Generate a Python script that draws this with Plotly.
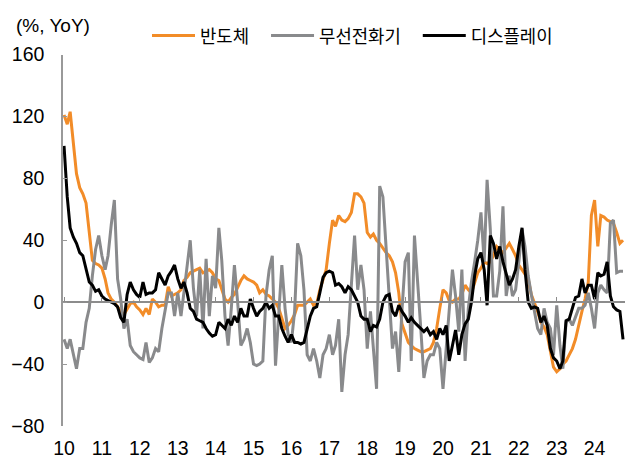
import pandas as pd
import plotly.graph_objects as go

# Monthly YoY (%) Jan 2010 - Oct 2024
semis = [
    121, 115, 123, 100, 83, 74, 70, 64, 47, 27, 25, 24,      # 2010
    22, 15, 6, 2, 0, -3, -6, -8, -4, -1, 0, -3,              # 2011
    -5, -8, -4, -8, 2, 0, -3, -2, -2, 10, 4, 5,              # 2012
    6, 8, 14, 16, 19, 20, 21, 22, 19, 20, 21, 19,            # 2013
    15, 14, 8, 2, 0, 3, 5, 10, 14, 17, 15, 14,               # 2014
    13, 11, 6, 8, 5, 4, 2, 0, -4, -10, -17, -15,             # 2015
    -12, -8, -2, -2, -2, 0, 2, -2, -1, 8, 14, 21,            # 2016
    38, 53, 49, 56, 53, 52, 54, 58, 70, 70, 68, 64,          # 2017
    45, 42, 44, 40, 38, 35, 32, 30, 26, 19, 6, -14,          # 2018
    -20, -26, -28, -30, -31, -32, -32, -31, -30, -26, -17, -4,  # 2019
    8, 6, 1, 0, 2, 2, 5, 11, 8, 6, 12, 19,                   # 2020
    22, 26, 25, 26, 30, 36, 34, 32, 35, 38, 34, 30,          # 2021
    24, 21, 18, 15, 5, 0, -6, -13, -16, -21, -33, -42,       # 2022
    -45, -43, -40, -38, -34, -30, -24, -14, -6, 2, 13, 56,   # 2023
    66, 36, 56, 55, 53, 52, 51, 45, 38, 40,                  # 2024
]
phones = [
    -24, -30, -24, -34, -43, -30, -30, -13, -4, 17, 34, 43,  # 2010
    30, 21, 30, 50, 66, 15, 2, -17, -11, -28, -32, -34,      # 2011
    -36, -37, -26, -39, -36, -30, -32, -17, -4, 6, 6, -9,    # 2012
    6, -9, 6, 24, 40, 9, -9, 21, -17, 28, -9, 17,            # 2013
    9, 48, 27, -9, -28, -4, 24, 0, -28, -24, -17, -26,       # 2014
    -40, -41, -40, -38, 4, 21, 30, -41, -4, 24, -4, -21,     # 2015
    -26, -6, 38, 30, 8, -34, -38, -30, -38, -49, -34, -30,   # 2016
    -21, -34, -28, -11, -58, -34, -21, 8, 43, 8, 24, 8,      # 2017
    -30, -6, -30, -56, 75, 68, 36, 4, -30, -19, -45, -6,     # 2018
    26, 32, -38, 43, 10, -17, -49, -38, -34, -34, -26, -30,  # 2019
    -56, -30, 0, 21, 4, -19, 21, -38, -4, 13, 26, 40,        # 2020
    58, 26, 79, 47, 4, 4, 20, 62, 4, 17, 4, 8,               # 2021
    26, 47, 36, 17, 5, -6, -17, -21, -4, -13, -17, -34,      # 2022
    -2, -28, -43, -13, -11, -15, -9, -4, -4, -2, 6, -4,      # 2023
    -17, 6, 11, 8, 6, 51, 53, 19, 20, 20,                    # 2024
]
display = [
    101, 68, 48, 42, 38, 32, 30, 22, 13, 11, 7, 8,           # 2010
    4, 2, 1, 0, -1, -3, -10, -13, 5, 13, 8, 5,               # 2011
    3, 13, 5, 6, 6, 8, 19, 15, 11, 17, 20, 24,               # 2012
    15, 9, 13, 6, -4, -6, -11, -12, -13, -17, -20, -22,      # 2013
    -21, -13, -15, -17, -11, -15, -9, -13, -4, -9, -9, 2,    # 2014
    -4, -9, -6, -4, 0, -4, -2, -9, -9, -17, -22, -26,        # 2015
    -21, -26, -26, -27, -26, -17, -9, -4, -3, 6, 16, 19,     # 2016
    20, 19, 11, 12, 10, 6, 10, 8, 4, 0, -9, -11,             # 2017
    -11, -19, -15, -16, -11, 0, 4, 5, -6, -9, -2, -6,        # 2018
    -9, -13, -10, -13, -15, -17, -19, -17, -21, -19, -24, -17,  # 2019
    -21, -15, -38, -28, -18, -34, -21, -14, -11, 0, 17, 28,  # 2020
    32, 21, -2, 43, 38, 28, 36, 26, 19, 11, 15, 21,          # 2021
    36, 48, 21, 0, -4, -3, -4, -13, -9, -15, -30, -36,       # 2022
    -38, -43, -38, -12, -11, -4, 3, 4, 15, 6, 11, 11,        # 2023
    2, 19, 17, 18, 26, 4, -3, -5, -6, -24,                   # 2024
]
years = list(range(2010, 2025))
year_labels = [str(y)[2:] for y in years]
names = ["반도체", "무선전화기", "디스플레이"]
colors = ["#F28C28", "#898A8C", "#000000"]
y_ticks = [-80, -40, 0, 40, 80, 120, 160]

dates = pd.date_range("2010-01-01", periods=len(semis), freq="MS")
tick_dates = [pd.Timestamp(f"{y}-01-01") for y in years]

FONT = "Liberation Sans, Arial, Noto Sans CJK KR, sans-serif"
PAD = "\u00a0\u00a0\u00a0"

# the page body adds an 8px offset, so the figure is sized to fit the window
W, H = 625, 453
L, T, R, B = 55, 41, 8, 35
plot_h = H - T - B

fig = go.Figure()
for i, (name, vals, col) in enumerate(zip(names, [semis, phones, display], colors)):
    fig.add_trace(go.Scatter(x=dates, y=vals, mode="lines",
                             name=name + (PAD if i < 2 else ""),
                             line=dict(color=col, width=3)))
# invisible helper trace carrying the year-label axis
fig.add_trace(go.Scatter(x=dates, y=display, xaxis="x2", mode="lines",
                         line=dict(width=0), opacity=0, showlegend=False,
                         hoverinfo="skip"))

xr = [pd.Timestamp("2009-12-22"), pd.Timestamp("2024-10-20")]
fig.update_layout(
    width=W, height=H,
    margin=dict(l=L, r=R, t=T, b=B),
    paper_bgcolor="white", plot_bgcolor="white",
    font=dict(family=FONT, size=19.5, color="#000"),
    showlegend=True,
    legend=dict(orientation="h", x=139 / W, y=1 - 28 / H, xref="container",
                yref="container", xanchor="left", yanchor="middle",
                font=dict(size=17.8, family="Noto Sans CJK KR"),
                bgcolor="rgba(0,0,0,0)", itemwidth=43, borderwidth=0),
    xaxis=dict(range=xr, anchor="free", position=1/3, showline=True,
               linecolor="#8c8c8c", linewidth=2, ticks="inside", ticklen=4,
               tickcolor="#8c8c8c", tickvals=tick_dates, showticklabels=False,
               showgrid=False, zeroline=False, automargin=False),
    xaxis2=dict(range=xr, overlaying="x", matches="x", anchor="y", side="bottom",
                showline=False, ticks="", tickvals=tick_dates, ticktext=year_labels,
                showgrid=False, zeroline=False, ticklabelstandoff=8, automargin=False),
    yaxis=dict(range=[-80, 160], tickvals=y_ticks,
               showline=True, linecolor="#999999", linewidth=1.5, ticks="inside",
               ticklen=4, tickcolor="#999999", showgrid=False, zeroline=False,
               ticklabelstandoff=13, automargin=False),
    annotations=[dict(text="(%, YoY)", xref="paper", yref="paper",
                      x=(6 - L) / (W - L - R), y=(H - B - 12) / plot_h,
                      xanchor="left", yanchor="middle", showarrow=False,
                      font=dict(size=19, family=FONT))],
)
fig.write_html("out.html")
